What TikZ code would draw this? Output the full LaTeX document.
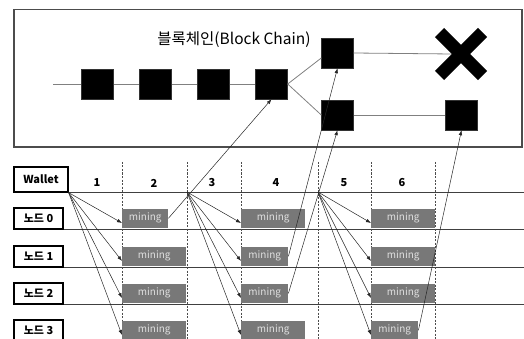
\documentclass[tikz,border=0pt]{standalone}
\usepackage{fontspec}
\setmainfont{Noto Sans CJK KR}
\usetikzlibrary{arrows.meta,shapes.misc}
\tikzset{
	block/.style={fill=black, draw=black!80, minimum width=32pt, minimum height=30pt, inner sep=0pt},
	rowbox/.style={draw, line width=1.3pt, minimum width=49pt, minimum height=21pt, inner sep=0pt, font=\bfseries\fontsize{11}{12}\selectfont},
	mine/.style={fill=black!53, text=black!12, minimum height=19pt, inner sep=0pt, anchor=south west, font=\fontsize{10}{11}\selectfont},
	tx/.style={-{Latex[length=5pt,width=3.6pt]}, line width=0.5pt, black!85},
	grid/.style={dash pattern=on 2pt off 1.5pt, black!70, line width=0.6pt},
	rowline/.style={black!75, line width=1.5pt},
	link/.style={black!50, line width=0.8pt}
}
\begin{document}
\begin{tikzpicture}[x=1pt,y=-1pt]
	\useasboundingbox (0,0) rectangle (524,339);
	%block chain panel
	\draw[black!70, line width=1.3pt] (14,9.5) rectangle (522,147);
	\node[font=\fontsize{15.5}{16}\selectfont] (title) at (234,40) {블록체인(Block Chain)};
	\coordinate (c0) at (53,84);
	\node[block] (b1) at (97.5,84) {};
	\node[block] (b2) at (155.5,84) {};
	\node[block] (b3) at (213.5,84) {};
	\node[block] (b4) at (271.5,84) {};
	\node[block] (up) at (337.5,53) {};
	\node[block] (lo) at (337.5,115) {};
	\node[block] (tip) at (461.5,115) {};
	\draw[link] (c0) -- (b1) -- (b2) -- (b3) -- (b4);
	\draw[link] (b4.east) -- ([yshift=-5pt]up.west);
	\draw[link] (b4.east) -- (lo.west);
	\draw[link] (lo) -- (tip);
	%dropped branch
	\coordinate (xc) at (461,54);
	\draw[link] (up.east) -- ([xshift=-9pt]xc);
	\node[draw, cross out, line width=13pt, minimum size=30pt, inner sep=0pt] (xx) at (xc) {};
	%wallet and node rows
	\coordinate (rr) at (524,0);
	\node[rowbox, minimum width=54pt, minimum height=25pt] (wallet) at (41,179.5) {Wallet};
	\node[rowbox] (n0) at (38.5,218.5) {노드 0};
	\node[rowbox] (n1) at (38.5,256.5) {노드 1};
	\node[rowbox] (n2) at (38.5,293.5) {노드 2};
	\node[rowbox] (n3) at (38.5,330.5) {노드 3};
	\foreach \n in {wallet,n0,n1,n2,n3}
		\draw[rowline] (\n.south east) -- (\n.south east -| rr);
	%time slots
	\foreach \x [count=\i] in {122,187,241,318,371,435}{
		\coordinate (d\i) at (\x,162);
		\draw[grid] (d\i) -- (\x,339);
	}
	\foreach \x [count=\i] in {97,154,212,276,344,402}
		\node[font=\bfseries\fontsize{11}{12}\selectfont] (t\i) at (\x,183) {\i};
	%mining boxes, column by column
	\node[mine, minimum width=46pt] (m10) at (122,228) {mining};
	\node[mine, minimum width=64pt] (m11) at (122,266) {mining};
	\node[mine, minimum width=64pt] (m12) at (122,303) {mining};
	\node[mine, minimum width=64pt] (m13) at (122,340) {mining};
	\node[mine, minimum width=64pt] (m20) at (241,228) {mining};
	\node[mine, minimum width=47pt] (m21) at (241,266) {mining};
	\node[mine, minimum width=47pt] (m22) at (241,303) {mining};
	\node[mine, minimum width=64pt] (m23) at (241,340) {mining};
	\node[mine, minimum width=64pt] (m30) at (371,228) {mining};
	\node[mine, minimum width=64pt] (m31) at (371,266) {mining};
	\node[mine, minimum width=64pt] (m32) at (371,303) {mining};
	\node[mine, minimum width=47pt] (m33) at (371,340) {mining};
	%broadcast of transactions
	\coordinate (s1) at (wallet.south east);
	\coordinate (s2) at (187,192);
	\coordinate (s3) at (318,192);
	\foreach \c in {1,2,3}
		\foreach \r in {0,1,2,3}
			\draw[tx] (s\c) -- ([yshift=5pt]m\c\r.south west);
	%mined blocks go up to the chain
	\draw[tx] (m10.east) -- (b4.south);
	\draw[tx] (m21.east) -- (up.south);
	\draw[tx] (m22.east) -- (lo.south);
	\draw[tx] (m33.east) -- (tip.south);
\end{tikzpicture}
\end{document}
